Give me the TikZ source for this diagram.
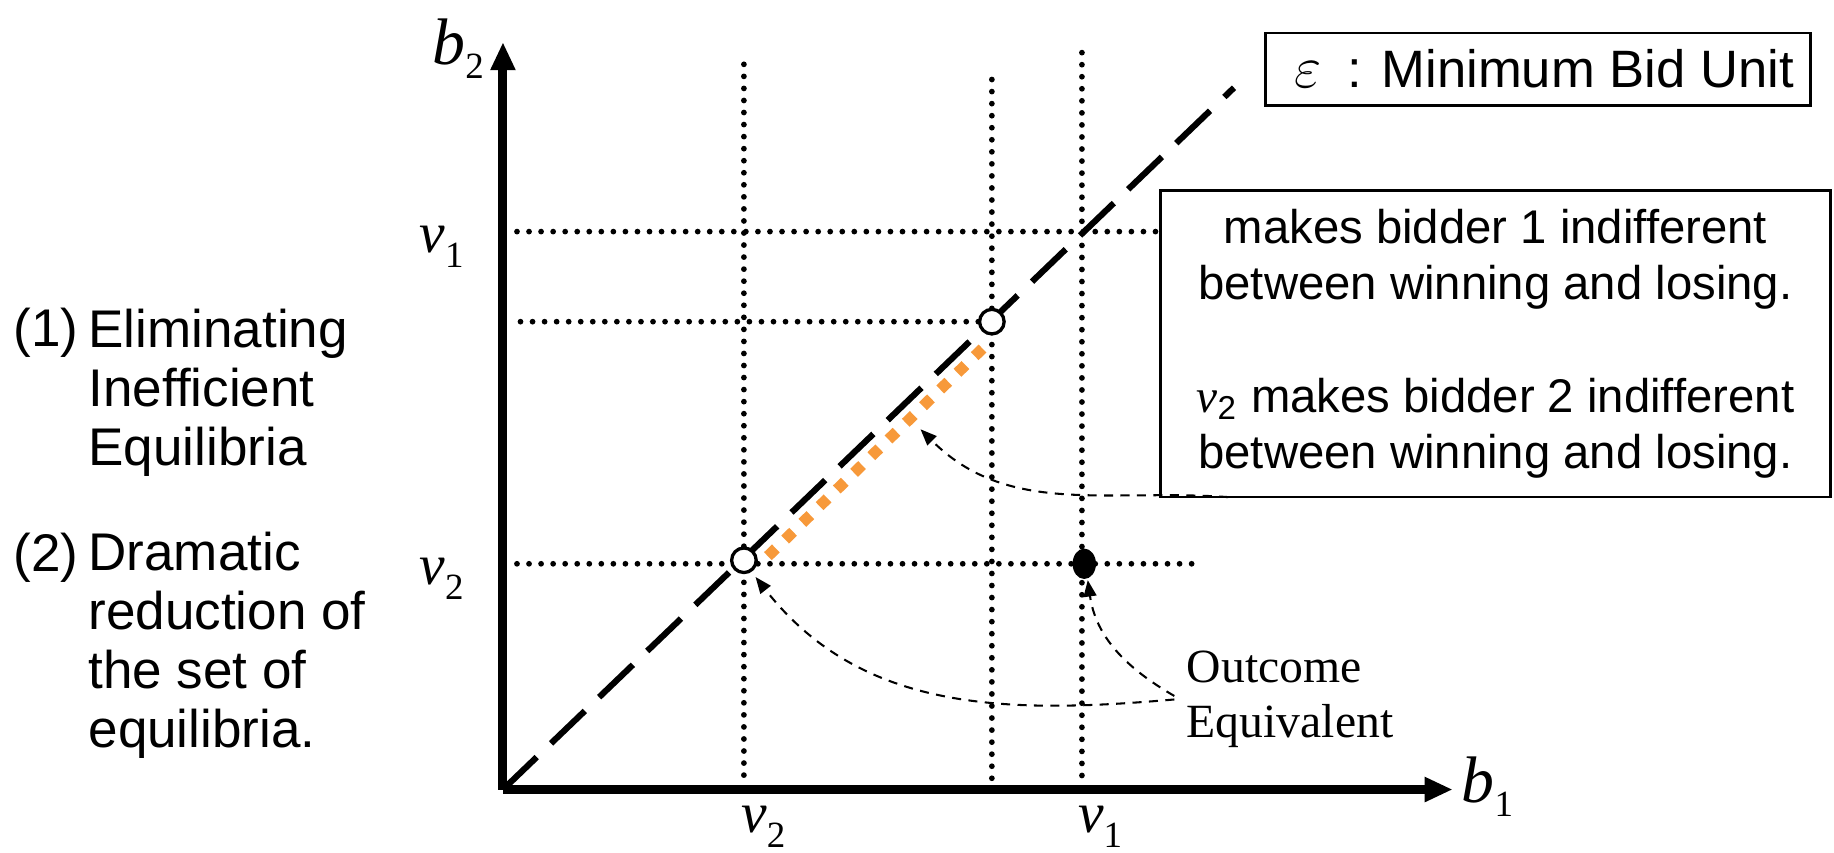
\documentclass[tikz,border=0pt]{standalone}
\usepackage{fontspec}
\setmainfont{Liberation Sans}
\newfontfamily\tmsfont{Liberation Serif}
\usetikzlibrary{arrows.meta}
\definecolor{bidorange}{RGB}{247,153,58}
\newcommand{\sym}[2]{{\tmsfont\itshape #1}\raisebox{-3.5pt}{\tmsfont\fontsize{9}{9}\selectfont #2}}

\begin{document}
\begin{tikzpicture}[>=Latex,
    axis/.style={line width=2.2pt, -{Triangle[length=0.24cm, width=0.2cm]}},
    gridline/.style={line width=1.4pt, line cap=round, dash pattern=on 0pt off 0.103cm},
    diagline/.style={line width=1.5pt, dash pattern=on 0.40cm off 0.17cm},
    hint/.style={line width=0.5pt, dash pattern=on 2.2pt off 1.8pt, -{Triangle[length=0.14cm, width=0.11cm]}},
    opendot/.style={circle, draw, fill=white, line width=0.8pt, minimum size=0.21cm, inner sep=0pt},
    mathlbl/.style={anchor=base west, inner sep=0pt, font=\fontsize{14}{16}\selectfont},
    note/.style={anchor=base west, inner sep=0pt, align=left, font=\fontsize{12.9}{14.35}\selectfont},
    infobox/.style={draw, line width=0.6pt, inner sep=0pt, align=center}]
    \useasboundingbox (0,0) rectangle (15.68,7.29);

    % axes
    \coordinate (O) at (4.30,0.54);
    \coordinate (xtip) at (12.42,0.54);
    \coordinate (ytip) at (4.30,6.93);
    \draw[axis] (O) -- (xtip);
    \draw[axis] (O) -- (ytip);
    \node[mathlbl, font=\fontsize{16}{18}\selectfont] (b1) at (12.49,0.43) {\sym{b}{1}};
    \node[mathlbl, font=\fontsize{16}{18}\selectfont] (b2) at (3.69,6.74) {\sym{b}{2}};

    % grid at v2, v1
    \draw[gridline] (6.36,6.74) -- (6.36,0.59);
    \draw[gridline] (8.48,6.61) -- (8.48,0.49);
    \draw[gridline] (9.25,6.84) -- (9.25,0.64);
    \draw[gridline] (4.42,5.31) -- (9.90,5.31);
    \draw[gridline] (4.45,4.54) -- (8.40,4.54);
    \draw[gridline] (4.42,2.47) -- (10.20,2.47);
    \node[mathlbl] (v1l) at (3.58,5.13) {\sym{v}{1}};
    \node[mathlbl] (v2l) at (3.58,2.29) {\sym{v}{2}};
    \node[mathlbl] (v2b) at (6.33,0.17) {\sym{v}{2}};
    \node[mathlbl] (v1b) at (9.21,0.17) {\sym{v}{1}};

    % 45 degree line and equilibria
    \coordinate (dtip) at (10.55,6.54);
    \draw[diagline] (O) -- (dtip);
    \coordinate (lo) at (6.565,2.535);
    \coordinate (hi) at (8.40,4.31);
    \draw[bidorange, line width=0.095cm, dash pattern=on 0.095cm off 0.11cm] (lo) -- (hi);
    \node[opendot] (c2) at (6.36,2.50) {};
    \node[opendot] (c1) at (8.48,4.54) {};
    \fill (9.27,2.47) ellipse (0.10 and 0.13);
    \coordinate (pt) at (9.30,2.33);

    % boxes
    \node[infobox, minimum width=4.66cm, minimum height=0.62cm, font=\fontsize{12.8}{15}\selectfont]
        (unit) at (13.15,6.70) {\hspace*{0.1cm}{\fontsize{15}{15}\selectfont$\varepsilon$}\enspace: Minimum Bid Unit};
    \node[infobox, minimum width=5.73cm, minimum height=2.62cm, font=\fontsize{11.5}{13.7}\selectfont]
        (indiff) at (12.785,4.35) {makes bidder 1 indifferent\\ between winning and losing.\\[13.7pt]
        {\tmsfont\itshape v}\textsubscript{2} makes bidder 2 indifferent\hspace*{0.3cm}\\ between winning and losing.};

    \node[align=left, inner sep=0.1cm, font=\tmsfont\fontsize{11.6}{13.4}\selectfont]
        (oe) at (11.03,1.31) {Outcome\\Equivalent};

    % hints
    \coordinate (h1) at (10.50,3.04);
    \coordinate (mid) at (7.87,3.62);
    \draw[hint] (h1) to[out=176, in=-45] (mid);
    \draw[hint] (oe.west) to[out=185, in=-52] ([shift={(0.04,-0.04)}]c2.-60);
    \draw[hint] ([yshift=0.03cm]oe.west) to[out=150, in=-82] (pt);

    % left notes
    \node[note] (n1) at (0.11,4.33) {(1)};
    \node[note] (t1) at (0.75,3.31) {Eliminating\\Inefficient\\Equilibria};
    \node[note] (n2) at (0.11,2.40) {(2)};
    \node[note] (t2) at (0.75,0.90) {Dramatic\\reduction of\\the set of\\equilibria.};
\end{tikzpicture}
\end{document}
